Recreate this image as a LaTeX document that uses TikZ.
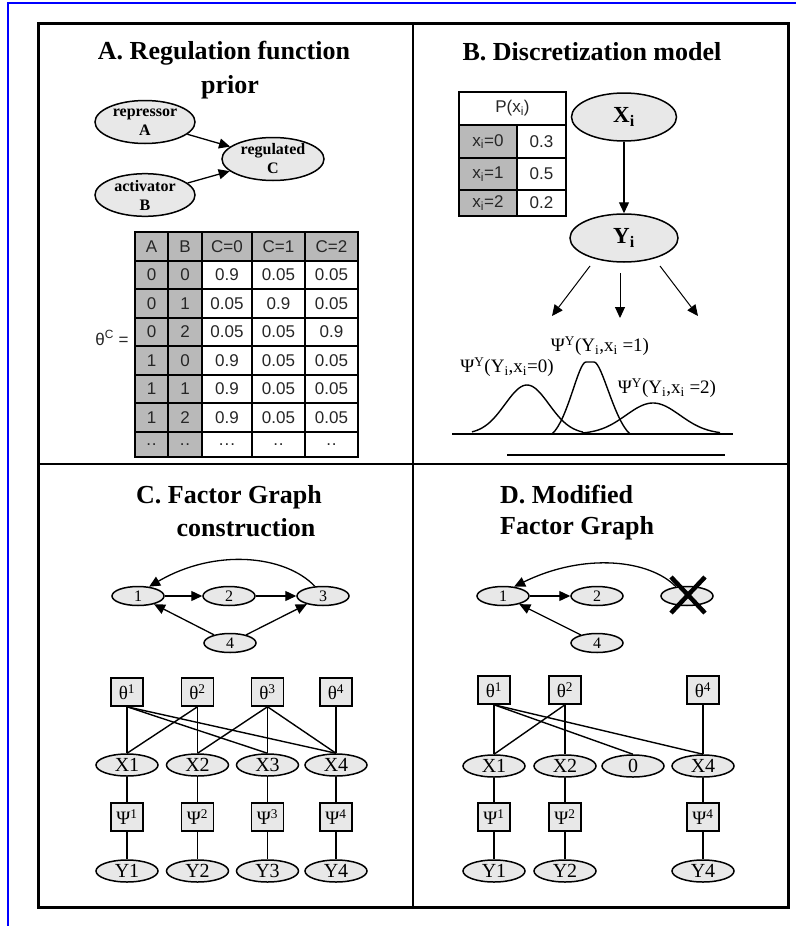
\documentclass[tikz,border=0pt]{standalone}
\usepackage{fontspec}
\setmainfont{Liberation Serif}
\newfontfamily\tabfont{Liberation Sans}
\usetikzlibrary{shapes.geometric,arrows.meta}
\newcommand\tdd{.\kern1pt.}
\newcommand\tddd{.\kern1pt.\kern1pt.}
\begin{document}
\begin{tikzpicture}[x=1pt,y=-1pt,
  ell/.style={ellipse,draw,line width=1.5pt,fill=gray!18,inner sep=0pt},
  fbx/.style={rectangle,draw,line width=1.5pt,fill=gray!18,inner sep=0pt,minimum width=32pt,minimum height=28pt,font=\fontsize{19}{20}\selectfont},
  xel/.style={ell,minimum width=62pt,minimum height=22pt,font=\fontsize{20}{21}\selectfont},
  gel/.style={ell,minimum width=52pt,minimum height=19pt,font=\fontsize{16}{17}\selectfont},
  arr/.style={line width=1.3pt,-{Triangle[length=11pt,width=10pt]}},
  fl/.style={line width=1.4pt},
  ttl/.style={font=\fontsize{26}{30}\selectfont\bfseries,inner sep=0pt},
  tcell/.style={font=\tabfont\fontsize{17}{18}\selectfont,text=gray!30!black,inner sep=0pt},
  lbl/.style={font=\fontsize{19}{21}\selectfont,inner sep=0pt},
  atxt/.style={align=center,font=\fontsize{16}{19}\selectfont\bfseries},
]
\useasboundingbox (0,0) rectangle (796,926);
\fill[white] (0,0) rectangle (796,926);
\draw[blue,line width=2.5pt] (8,926) -- (8,3) -- (796,3);
\draw[line width=3pt] (38,23) rectangle (788,907);
\draw[line width=2.5pt] (413,23) -- (413,907) (38,464) -- (788,464);

% ---------- Panel A ----------
\node[ttl] (tA1) at (224,53) {A. Regulation function};
\node[ttl] (tA2) at (230,87) {prior};
\node[ell,minimum width=100pt,minimum height=43pt,atxt] (rA) at (145,122) {repressor\\A};
\node[ell,minimum width=100pt,minimum height=40pt,atxt] (aB) at (145,195) {activator\\B};
\node[ell,minimum width=102pt,minimum height=43pt,atxt] (rC) at (273,159) {regulated\\C};
\draw[arr] (rA) -- (rC);
\draw[arr] (aB) -- (rC);

% table A
\fill[gray!55] (135,232) rectangle (358,261);
\fill[gray!55] (135,261) rectangle (202,457);
\fill[white] (202,261) rectangle (358,457);
\draw[line width=2pt] (135,232) rectangle (358,457);
\foreach \xx in {168,202,252,305} \draw[line width=2pt] (\xx,232) -- (\xx,457);
\foreach \yy in {261,289,318,346,375,403,432} \draw[line width=2pt] (135,\yy) -- (358,\yy);
\foreach \yy/\a/\b/\c/\d/\e [count=\i] in {246.5/A/B/C=0/C=1/C=2, 275/0/0/0.9/0.05/0.05, 303.5/0/1/0.05/0.9/0.05, 332/0/2/0.05/0.05/0.9, 360.5/1/0/0.9/0.05/0.05, 389/1/1/0.9/0.05/0.05, 417.5/1/2/0.9/0.05/0.05, 444.5/\tdd/\tdd/\tddd/\tdd/\tdd}{
  \node[tcell] (ta\i) at (151.5,\yy) {\a};
  \node[tcell] (tb\i) at (185,\yy) {\b};
  \node[tcell] (tc\i) at (227,\yy) {\c};
  \node[tcell] (td\i) at (278.5,\yy) {\d};
  \node[tcell] (te\i) at (331.5,\yy) {\e};
}
\node[tcell] (thC) at (112,338) {θ\textsuperscript{C} =};

% ---------- Panel B ----------
\node[ttl] (tB) at (592,52) {B. Discretization model};
\fill[white] (459,92) rectangle (566,216);
\fill[gray!55] (459,125) rectangle (517,216);
\draw[line width=2pt] (459,92) rectangle (566,216);
\foreach \yy in {125,158,190} \draw[line width=2pt] (459,\yy) -- (566,\yy);
\draw[line width=2pt] (517,125) -- (517,216);
\node[tcell] (pH) at (512.5,108.5) {P(x\textsubscript{i})};
\foreach \yy/\v/\p [count=\i] in {141.5/0/0.3, 174/1/0.5, 203/2/0.2}{
  \node[tcell] (pl\i) at (488,\yy) {x\textsubscript{i}=\v};
  \node[tcell] (pr\i) at (541.5,\yy) {\p};
}
\node[ell,minimum width=105pt,minimum height=48pt,font=\fontsize{23}{24}\selectfont\bfseries] (Xi) at (624,117) {X\textsubscript{i}};
\node[ell,minimum width=108pt,minimum height=48pt,font=\fontsize{23}{24}\selectfont\bfseries] (Yi) at (624,238) {Y\textsubscript{i}};
\draw[arr] (Xi) -- (Yi);
\coordinate (s1) at (590,266); \coordinate (e1) at (552,316);
\coordinate (s2) at (620,273); \coordinate (e2) at (620,318);
\coordinate (s3) at (660,266); \coordinate (e3) at (698,316);
\draw[arr,line width=1pt] (s1) -- (e1);
\draw[arr,line width=1pt] (s2) -- (e2);
\draw[arr,line width=1pt] (s3) -- (e3);
\draw[fl] plot[domain=-55:56,samples=60] ({527+\x},{434-49*exp(-(\x*\x)/(2*22*22))});
\draw[fl] (552,434) .. controls (568,420) and (578,362) .. (586,362) -- (594,362) .. controls (602,362) and (614,420) .. (630,434);
\draw[fl] plot[domain=-71:67,samples=60] ({653+\x},{434-31*exp(-(\x*\x)/(2*27*27))});
\draw[fl] (452,434) -- (733,434);
\draw[line width=1.8pt] (507,455) -- (725,455);
\node[lbl] (L1) at (600,346) {Ψ\textsuperscript{Y}(Y\textsubscript{i},x\textsubscript{i} =1)};
\node[lbl] (L0) at (507,367) {Ψ\textsuperscript{Y}(Y\textsubscript{i},x\textsubscript{i}=0)};
\node[lbl] (L2) at (667,388) {Ψ\textsuperscript{Y}(Y\textsubscript{i},x\textsubscript{i} =2)};

% ---------- Panel C ----------
\node[ttl] (tC1) at (229,497) {C. Factor Graph};
\node[ttl] (tC2) at (246,528) {construction};
\node[gel] (c1) at (138,596) {1};
\node[gel] (c2) at (229,596) {2};
\node[gel] (c3) at (323,596) {3};
\node[gel] (c4) at (230,643) {4};
\draw[arr] (c1) -- (c2);
\draw[arr] (c2) -- (c3);
\draw[arr] (c4) -- (c1);
\draw[arr] (c4) -- (c3);
\draw[arr] (c3.130) .. controls (285,555) and (215,548) .. (c1.40);
\foreach \i/\xx in {1/127,2/197.5,3/267.5,4/336}{
  \node[fbx] (th\i) at (\xx,692) {θ\textsuperscript{\i}};
  \node[xel] (x\i) at (\xx,765) {X\i};
  \node[fbx] (ps\i) at (\xx,817) {Ψ\textsuperscript{\i}};
  \node[xel] (y\i) at (\xx,871) {Y\i};
  \draw[fl] (x\i) -- (ps\i) -- (y\i);
}
\draw[fl] (th1.south) -- (x1.north);
\draw[fl] (th1.south) -- (x3.north);
\draw[fl] (th1.south) -- (x4.north);
\draw[fl] (th2.south) -- (x1.north);
\draw[fl] (th2.south) -- (x2.north);
\draw[fl] (th3.south) -- (x2.north);
\draw[fl] (th3.south) -- (x3.north);
\draw[fl] (th3.south) -- (x4.north);
\draw[fl] (th4.south) -- (x4.north);

% ---------- Panel D ----------
\node[ttl,anchor=west] (tD1) at (500,495) {D. Modified};
\node[ttl,anchor=west] (tD2) at (500,528) {Factor Graph};
\node[gel] (d1) at (503,596) {1};
\node[gel] (d2) at (597,596) {2};
\node[gel] (d3) at (687,596) {};
\node[gel] (d4) at (597,643) {4};
\draw[arr] (d1) -- (d2);
\draw[arr] (d4) -- (d1);
\draw[arr] (d3.140) .. controls (650,560) and (585,552) .. (d1.40);
\coordinate (k1) at (671,577); \coordinate (k2) at (705,613);
\coordinate (k3) at (705,577); \coordinate (k4) at (671,613);
\draw[line width=4.5pt] (k1) -- (k2) (k3) -- (k4);
\foreach \i/\xx in {1/494,2/565,4/703}{
  \node[fbx] (dth\i) at (\xx,690) {θ\textsuperscript{\i}};
  \node[xel] (dx\i) at (\xx,766) {X\i};
  \node[fbx] (dps\i) at (\xx,817) {Ψ\textsuperscript{\i}};
  \node[xel] (dy\i) at (\xx,871) {Y\i};
  \draw[fl] (dx\i) -- (dps\i) -- (dy\i);
}
\node[xel] (dx3) at (633,766) {0};
\draw[fl] (dth1.south) -- (dx1.north);
\draw[fl] (dth1.south) -- (dx3.north);
\draw[fl] (dth1.south) -- (dx4.north);
\draw[fl] (dth2.south) -- (dx1.north);
\draw[fl] (dth2.south) -- (dx2.north);
\draw[fl] (dth4.south) -- (dx4.north);
\end{tikzpicture}
\end{document}
